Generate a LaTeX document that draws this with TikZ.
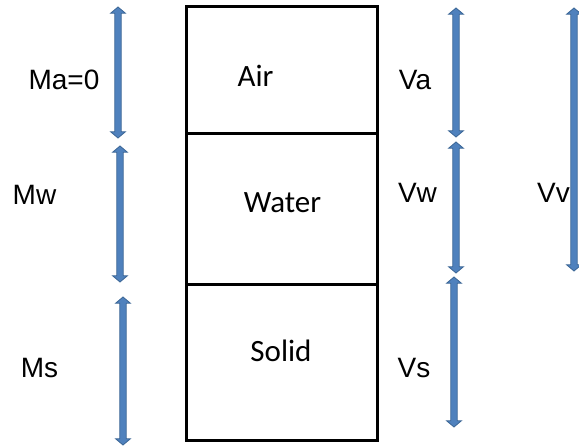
\documentclass[tikz,border=0pt]{standalone}
\usepackage{fontspec}
\setmainfont{Liberation Sans}
\newfontfamily\calibfont{Carlito}
\usetikzlibrary{shapes.arrows}
\definecolor{arrowfill}{HTML}{4F81BD}
\definecolor{arrowline}{HTML}{3A6595}
\tikzset{
  darrow/.style={double arrow, rotate=90, fill=arrowfill, draw=arrowline, line width=0.8pt,
    inner sep=2.8pt, double arrow head extend=4.2pt, double arrow tip angle=100},
  qlabel/.style={anchor=base, font=\fontsize{28}{30}\selectfont},
  phase/.style={anchor=base, font=\calibfont\fontsize{31}{33}\selectfont}
}
\begin{document}
\begin{tikzpicture}[x=1pt, y=-1pt]
    \useasboundingbox (0,0) rectangle (579,446);
    % soil column
    \draw[line width=3pt] (186,7) rectangle (377,441);
    \draw[line width=3pt] (186,134) -- (377,134);
    \draw[line width=3pt] (186,285) -- (377,285);
    \node[phase] (air) at (255.5,87) {Air};
    \node[phase] (water) at (282.5,213) {Water};
    \node[phase] (solid) at (281,362) {Solid};
    % masses
    \node[darrow, minimum height=131pt] (ma) at (118,72.5) {};
    \node[darrow, minimum height=136pt] (mw) at (120,214) {};
    \node[darrow, minimum height=148pt] (ms) at (123,371) {};
    \node[qlabel] (malab) at (64,90) {Ma=0};
    \node[qlabel] (mwlab) at (34.5,205) {Mw};
    \node[qlabel] (mslab) at (39.5,378) {Ms};
    % volumes
    \node[darrow, minimum height=129pt] (va) at (456,72.5) {};
    \node[darrow, minimum height=131pt] (vw) at (456,207.5) {};
    \node[darrow, minimum height=150pt] (vs) at (454,352) {};
    \node[darrow, minimum height=263pt] (vv) at (574,139.5) {};
    \node[qlabel] (valab) at (415,90) {Va};
    \node[qlabel] (vwlab) at (417.5,203) {Vw};
    \node[qlabel] (vslab) at (414,378) {Vs};
    \node[qlabel] (vvlab) at (553.5,203) {Vv};
\end{tikzpicture}
\end{document}
